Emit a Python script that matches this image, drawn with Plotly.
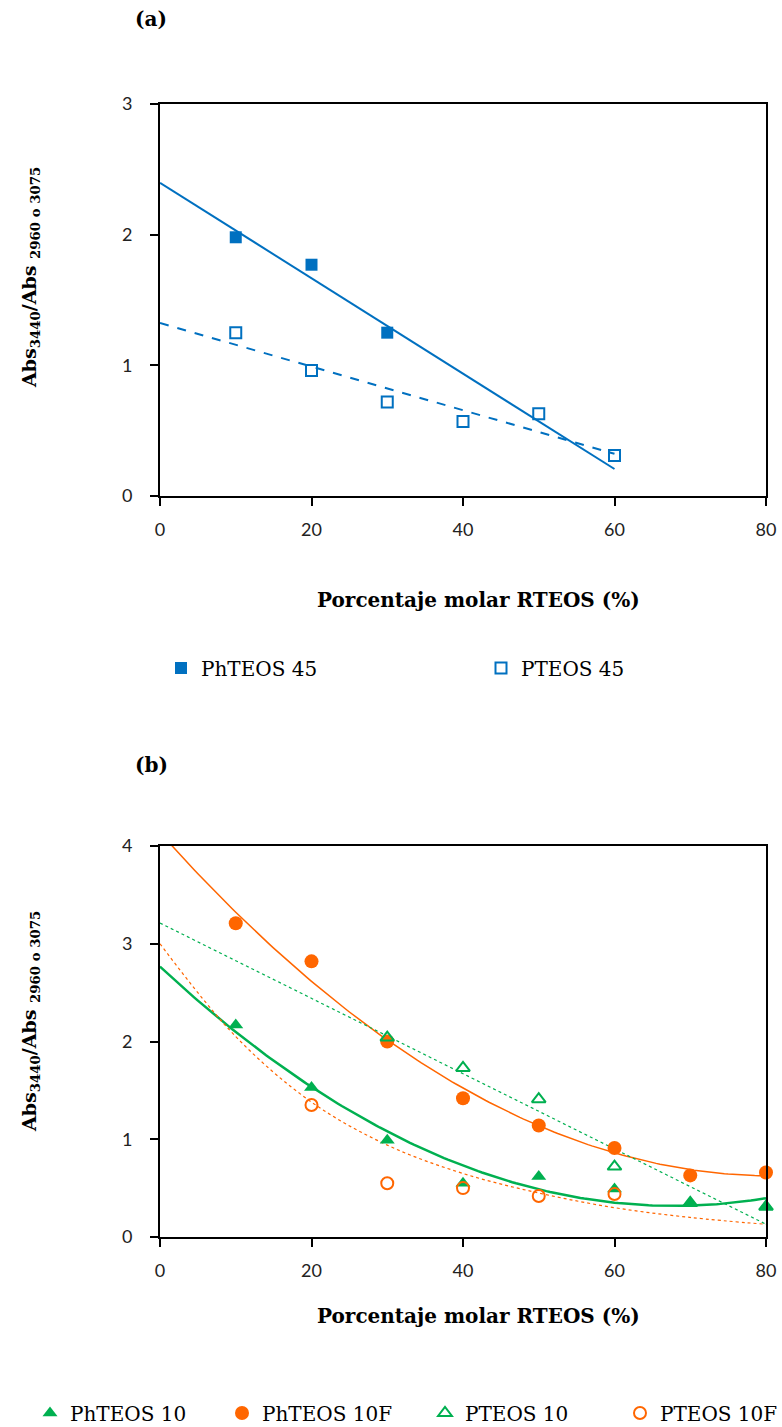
import numpy as np
import plotly.graph_objects as go

# (a) serie 45
x_a = [10, 20, 30, 40, 50, 60]
phteos45 = [1.98, 1.77, 1.25]
pteos45 = [1.25, 0.96, 0.72, 0.57, 0.63, 0.31]

# (b) serie 10
x_b = [10, 20, 30, 40, 50, 60, 70, 80]
phteos10 = [2.17, 1.53, 0.99, 0.55, 0.62, 0.49, 0.34, 0.31]
phteos10f = [3.21, 2.82, 2.00, 1.42, 1.14, 0.91, 0.63, 0.66]
x_pteos10 = [30, 40, 50, 60, 70, 80]
pteos10 = [2.04, 1.73, 1.41, 0.72, 0.35, 0.31]
x_pteos10f = [20, 30, 40, 50, 60]
pteos10f = [1.35, 0.55, 0.50, 0.42, 0.44]
# tendencia PTEOS 10F
x_trend = [0, 10, 20, 30, 40, 50, 60, 70, 80]
pteos10f_trend = [3.0, 2.05, 1.38, 0.94, 0.65, 0.45, 0.30, 0.20, 0.13]

BLUE = "#0070C0"
GREEN = "#00B050"
ORANGE = "#FF6600"
W, H = 782, 1427
SERIF = "DejaVu Serif"


def px(x):
    return x / W


def py(y):
    return 1 - y / H


fig = go.Figure()

# ---- (a) trend lines
xa = np.array(x_a[:len(phteos45)])
c = np.polyfit(xa, phteos45, 1)
xs = np.array([0, 60])
fig.add_trace(go.Scatter(x=xs, y=np.polyval(c, xs), mode="lines", showlegend=False,
                         line=dict(color=BLUE, width=2), xaxis="x", yaxis="y"))
c = np.polyfit(x_a, pteos45, 1)
fig.add_trace(go.Scatter(x=xs, y=np.polyval(c, xs), mode="lines", showlegend=False,
                         line=dict(color=BLUE, width=2, dash="dash"), xaxis="x", yaxis="y"))

fig.add_trace(go.Scatter(x=x_a[:len(phteos45)], y=phteos45, mode="markers", name="PhTEOS 45",
                         marker=dict(symbol="square", size=12, color=BLUE),
                         cliponaxis=False, legend="legend", xaxis="x", yaxis="y"))
fig.add_trace(go.Scatter(x=x_a, y=pteos45, mode="markers", name="PTEOS 45",
                         marker=dict(symbol="square-open", size=11, color=BLUE, line=dict(width=2)),
                         cliponaxis=False, legend="legend2", xaxis="x", yaxis="y"))

# ---- (b) trend lines
xl = np.linspace(0, 80, 161)
c = np.polyfit(x_b, phteos10, 2)
fig.add_trace(go.Scatter(x=xl, y=np.polyval(c, xl), mode="lines", showlegend=False,
                         line=dict(color=GREEN, width=2.5), xaxis="x2", yaxis="y2"))
c = np.polyfit(x_b, phteos10f, 2)
fig.add_trace(go.Scatter(x=xl, y=np.polyval(c, xl), mode="lines", showlegend=False,
                         line=dict(color=ORANGE, width=1.5), xaxis="x2", yaxis="y2"))
c = np.polyfit(x_pteos10, pteos10, 1)
fig.add_trace(go.Scatter(x=[0, 80], y=np.polyval(c, [0, 80]), mode="lines", showlegend=False,
                         line=dict(color=GREEN, width=1.2, dash="dot"), xaxis="x2", yaxis="y2"))
fig.add_trace(go.Scatter(x=x_trend, y=pteos10f_trend, mode="lines", line_shape="spline",
                         showlegend=False, line=dict(color=ORANGE, width=1.2, dash="dot"),
                         xaxis="x2", yaxis="y2"))

fig.add_trace(go.Scatter(x=x_b, y=phteos10, mode="markers", name="PhTEOS 10",
                         marker=dict(symbol="triangle-up", size=13, color=GREEN),
                         cliponaxis=False, legend="legend3", xaxis="x2", yaxis="y2"))
fig.add_trace(go.Scatter(x=x_b, y=phteos10f, mode="markers", name="PhTEOS 10F",
                         marker=dict(symbol="circle", size=14, color=ORANGE),
                         cliponaxis=False, legend="legend4", xaxis="x2", yaxis="y2"))
fig.add_trace(go.Scatter(x=x_pteos10, y=pteos10, mode="markers", name="PTEOS 10",
                         marker=dict(symbol="triangle-up-open", size=12, color=GREEN, line=dict(width=2)),
                         cliponaxis=False, legend="legend5", xaxis="x2", yaxis="y2"))
fig.add_trace(go.Scatter(x=x_pteos10f, y=pteos10f, mode="markers", name="PTEOS 10F",
                         marker=dict(symbol="circle-open", size=12, color=ORANGE, line=dict(width=2)),
                         cliponaxis=False, legend="legend6", xaxis="x2", yaxis="y2"))

tickfont = dict(family="Lato", size=18, color="#222222")
xdom = [px(160), px(766)]
axis_common = dict(showgrid=False, zeroline=False, showline=True, linecolor="black", linewidth=2,
                   mirror=True, ticks="outside", ticklen=8, tickwidth=2, tickcolor="black",
                   tickfont=tickfont)


def leg(text_x, text_y):
    # text of a legend item starts 40 px right of the legend's left edge
    return dict(orientation="h", x=px(text_x - 40), xanchor="left", y=py(text_y), yanchor="middle",
                bgcolor="rgba(0,0,0,0)", font=dict(family=SERIF, size=20, color="black"))


fig.update_layout(
    width=W, height=H, margin=dict(l=0, r=0, t=0, b=0, autoexpand=False),
    paper_bgcolor="white", plot_bgcolor="white",
    xaxis=dict(domain=xdom, range=[0, 80], dtick=20, anchor="y", ticklabelstandoff=8, **axis_common),
    yaxis=dict(domain=[py(496), py(104)], range=[0, 3], dtick=1, anchor="x", ticklabelstandoff=14,
               **axis_common),
    xaxis2=dict(domain=xdom, range=[0, 80], dtick=20, anchor="y2", ticklabelstandoff=8, **axis_common),
    yaxis2=dict(domain=[py(1237), py(846)], range=[0, 4], dtick=1, anchor="x2", ticklabelstandoff=14,
                **axis_common),
    legend=leg(201, 668),
    legend2=leg(521, 668),
    legend3=leg(70, 1413),
    legend4=leg(262, 1413),
    legend5=leg(465, 1413),
    legend6=leg(660, 1413),
)

ytitle = "<b>Abs<sub>3440</sub>/Abs <sub>2960 o 3075</sub></b>"
xtitle = "<b>Porcentaje molar RTEOS (%)</b>"
ann = [
    dict(text="<b>(a)</b>", x=px(151), y=py(19), font=dict(family=SERIF, size=20, color="black")),
    dict(text="<b>(b)</b>", x=px(151), y=py(765), font=dict(family=SERIF, size=20, color="black")),
    dict(text=xtitle, x=px(478), y=py(600), font=dict(family=SERIF, size=20, color="black")),
    dict(text=xtitle, x=px(478), y=py(1316), font=dict(family=SERIF, size=20, color="black")),
    dict(text=ytitle, x=px(30), y=py(278), textangle=-90, font=dict(family=SERIF, size=19, color="black")),
    dict(text=ytitle, x=px(30), y=py(1022), textangle=-90, font=dict(family=SERIF, size=19, color="black")),
]
for a in ann:
    fig.add_annotation(xref="paper", yref="paper", showarrow=False, xanchor="center",
                       yanchor="middle", **a)

# the page body has a default 8px margin; remove it so the figure sits at (0, 0)
fig.write_html("out.html", config={"displayModeBar": False},
               post_script="document.body.style.margin='0px';")
